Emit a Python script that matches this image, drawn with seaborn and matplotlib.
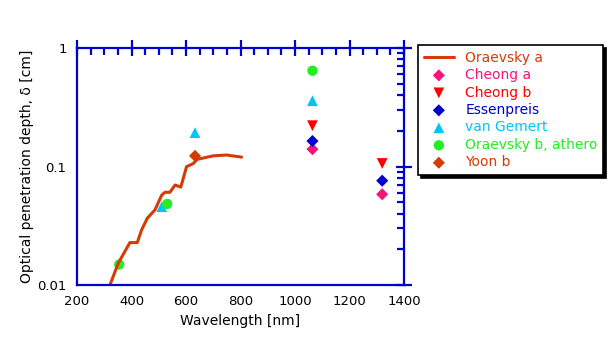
import numpy as np
import seaborn as sns
import matplotlib
matplotlib.use("Agg")
import matplotlib.pyplot as plt
from matplotlib.ticker import FixedLocator, FixedFormatter, MultipleLocator, LogLocator, NullFormatter

# Oraevsky a curve (wavelength nm, depth cm)
orav_a_x = [321, 351, 394, 421, 437, 458, 486, 511, 523, 541, 560, 581, 602, 627, 641, 700, 749, 804]
orav_a_y = [0.0100, 0.0152, 0.0228, 0.0228, 0.0291, 0.0366, 0.0430, 0.0574, 0.0606, 0.0606,
            0.0698, 0.0670, 0.0996, 0.106, 0.115, 0.123, 0.125, 0.120]

# point series
cheong_a_x = [1064, 1320]
cheong_a_y = [0.140, 0.0583]
cheong_b_x = [1064, 1320]
cheong_b_y = [0.221, 0.106]
essen_x = [1064, 1320]
essen_y = [0.164, 0.0759]
gemert_x = [511, 633, 1064]
gemert_y = [0.0458, 0.193, 0.359]
orav_b_x = [355, 531, 1064]
orav_b_y = [0.0149, 0.0483, 0.643]
yoon_x = [633]
yoon_y = [0.123]

blue = "#0000D0"
orange = "#D43C06"
c_pink = "#F5147A"
c_red = "#FF0000"
c_blue = "#0000CC"
c_cyan = "#00C4F5"
c_green = "#22EE22"

sns.set_style("white")
plt.rcParams["font.family"] = ["DejaVu Sans"]

fig = plt.figure(figsize=(6.12, 3.64), dpi=100)
ax = fig.add_axes([77 / 612, 1 - 285 / 364, (404 - 77) / 612, (285 - 48) / 364])

sns.lineplot(x=orav_a_x, y=orav_a_y, ax=ax, color=orange, linewidth=2.2, label="Oraevsky a")
sns.scatterplot(x=cheong_a_x, y=cheong_a_y, ax=ax, color=c_pink, marker="D", s=38,
                edgecolor="none", label="Cheong a")
sns.scatterplot(x=cheong_b_x, y=cheong_b_y, ax=ax, color=c_red, marker="v", s=60,
                edgecolor="none", label="Cheong b")
sns.scatterplot(x=essen_x, y=essen_y, ax=ax, color=c_blue, marker="D", s=38,
                edgecolor="none", label="Essenpreis")
sns.scatterplot(x=gemert_x, y=gemert_y, ax=ax, color=c_cyan, marker="^", s=60,
                edgecolor="none", label="van Gemert")
sns.scatterplot(x=orav_b_x, y=orav_b_y, ax=ax, color=c_green, marker="o", s=55,
                edgecolor="none", label="Oraevsky b, athero")
sns.scatterplot(x=yoon_x, y=yoon_y, ax=ax, color=orange, marker="D", s=38,
                edgecolor="none", label="Yoon b")

ax.set_yscale("log")
ax.set_xlim(200, 1400)
ax.set_ylim(0.01, 1)

ax.xaxis.set_major_locator(MultipleLocator(200))
ax.xaxis.set_minor_locator(MultipleLocator(50))
ax.yaxis.set_major_locator(FixedLocator([0.01, 0.1, 1]))
ax.yaxis.set_major_formatter(FixedFormatter(["0.01", "0.1", "1"]))
ax.yaxis.set_minor_locator(LogLocator(base=10, subs=np.arange(2, 10)))
ax.yaxis.set_minor_formatter(NullFormatter())

for s in ax.spines.values():
    s.set_color(blue)
    s.set_linewidth(1.6)
ax.tick_params(which="major", direction="inout", length=11, width=1.6, color=blue,
               top=True, right=True, labelsize=9.5, pad=2, labelcolor="black")
ax.tick_params(which="minor", direction="in", length=5, width=1.6, color=blue,
               top=True, right=True)

ax.set_xlabel("Wavelength [nm]", fontsize=10, labelpad=4, color="black")
ax.set_ylabel("Optical penetration depth, \u03b4 [cm]", fontsize=10, labelpad=2, color="black")

handles, labels = ax.get_legend_handles_labels()
ax.get_legend().remove()
leg = fig.legend(handles, labels, loc="upper left", bbox_to_anchor=(418 / 612, 1 - 45 / 364),
                 borderaxespad=0, frameon=True, fancybox=False,
                 shadow={"color": "black", "alpha": 1},
                 fontsize=10, handlelength=2.2, borderpad=0.4, labelspacing=0.25,
                 edgecolor="black", framealpha=1)
leg.get_frame().set_linewidth(1.2)
for t, c in zip(leg.get_texts(), [orange, c_pink, c_red, c_blue, c_cyan, c_green, orange]):
    t.set_color(c)

fig.savefig("out.png", dpi=100)
